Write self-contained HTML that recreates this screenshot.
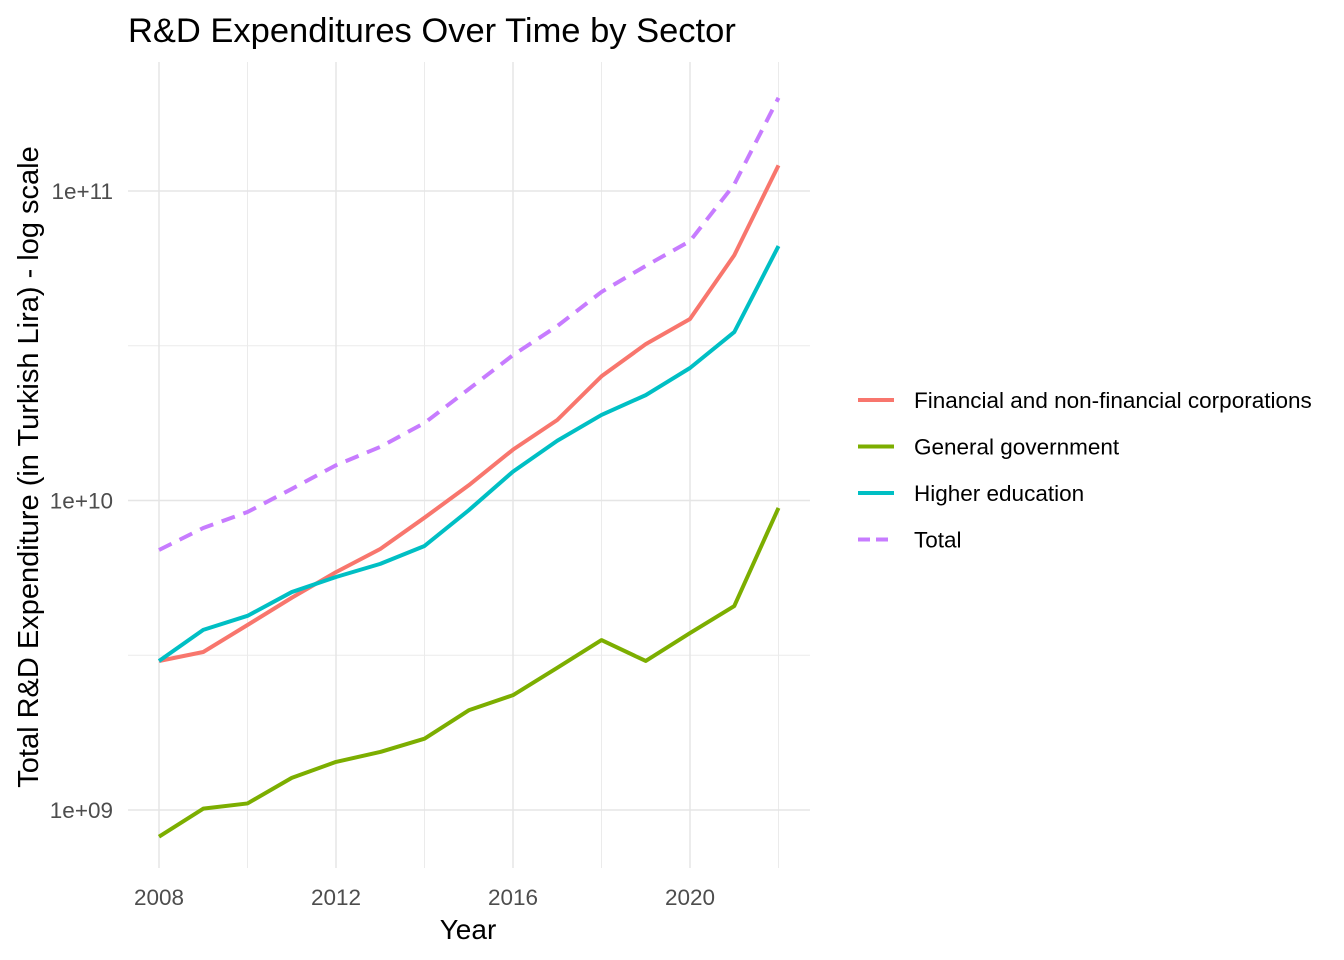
<!DOCTYPE html>
<html><head><meta charset="utf-8"><style>
html,body{margin:0;padding:0;background:#fff;}
svg{display:block;font-family:"Liberation Sans",Arial,sans-serif;}
</style></head><body>
<svg id="chart" width="1344" height="960">
<g id="grid"></g>
<g id="series"></g>
<g id="axes"></g>
<text x="128" y="42" font-size="34.5" fill="#000">R&amp;D Expenditures Over Time by Sector</text>
<text x="468" y="939" font-size="28" fill="#000" text-anchor="middle">Year</text>
<text transform="translate(38,467) rotate(-90)" font-size="29" fill="#000" text-anchor="middle">Total R&amp;D Expenditure (in Turkish Lira) - log scale</text>
<g id="legend"></g>
</svg>
<script>
const years = [2008,2009,2010,2011,2012,2013,2014,2015,2016,2017,2018,2019,2020,2021,2022];
const corporations = [3.03e9,3.24e9,3.96e9,4.85e9,5.87e9,6.97e9,8.8e9,1.12e10,1.46e10,1.82e10,2.52e10,3.2e10,3.86e10,6.2e10,1.21e11];
const government = [8.2e8,1.01e9,1.05e9,1.27e9,1.43e9,1.54e9,1.7e9,2.1e9,2.35e9,2.88e9,3.54e9,3.03e9,3.73e9,4.56e9,9.46e9];
const higherEducation = [3.03e9,3.82e9,4.24e9,5.06e9,5.66e9,6.24e9,7.13e9,9.3e9,1.24e10,1.56e10,1.89e10,2.19e10,2.68e10,3.5e10,6.64e10];
const total = [6.92e9,8.15e9,9.18e9,1.09e10,1.3e10,1.49e10,1.78e10,2.29e10,2.95e10,3.66e10,4.72e10,5.73e10,6.89e10,1.05e11,2.0e11];
const xTicks = [2008,2012,2016,2020];
const yTicks = [1e9,1e10,1e11];
const yTickLabels = ["1e+09","1e+10","1e+11"];
const seriesNames = ["Financial and non-financial corporations","General government","Higher education","Total"];

const NS="http://www.w3.org/2000/svg";
const L=128,R=810,T=62,B=868;
const x=v=>159+(v-2008)*(778.5-159)/14;
const y=v=>191-(Math.log10(v)-11)*309.5;
function mk(tag,attrs,parent){const e=document.createElementNS(NS,tag);for(const k in attrs)e.setAttribute(k,attrs[k]);parent.appendChild(e);return e;}
const grid=document.getElementById('grid'),axes=document.getElementById('axes'),ser=document.getElementById('series'),leg=document.getElementById('legend');
for(let yr=2010;yr<=2022;yr+=4){const l=mk('line',{x1:x(yr),x2:x(yr),y1:T,y2:B,stroke:'#ebebeb','stroke-width':1},grid);

}
for(const e of [9.5,10.5]){const l=mk('line',{x1:L,x2:R,y1:y(Math.pow(10,e)),y2:y(Math.pow(10,e)),stroke:'#ebebeb','stroke-width':1},grid);

}
xTicks.forEach(t=>{const l=mk('line',{x1:x(t),x2:x(t),y1:T,y2:B,stroke:'#e5e5e5','stroke-width':1.5},grid);


const tx=mk('text',{x:x(t),y:905,'font-size':22.5,fill:'#4d4d4d','text-anchor':'middle'},axes);tx.textContent=t;

});
yTicks.forEach((t,i)=>{const l=mk('line',{x1:L,x2:R,y1:y(t),y2:y(t),stroke:'#e5e5e5','stroke-width':1.5},grid);


const tx=mk('text',{x:113,y:y(t)+8,'font-size':22.5,fill:'#4d4d4d','text-anchor':'end'},axes);tx.textContent=yTickLabels[i];

});
const data=[corporations,government,higherEducation,total];
const colors=['#F8766D','#7CAE00','#00BFC4','#C77CFF'];
const names=['line-corporations','line-government','line-higher-education','line-total'];
data.forEach((d,i)=>{const p=mk('polyline',{points:d.map((v,j)=>x(years[j])+','+y(v)).join(' '),fill:'none',stroke:colors[i],'stroke-width':4,'stroke-linejoin':'round'},ser);
if(i===3)p.setAttribute('stroke-dasharray','14,9');


const ly=400+i*46.5;
const g=mk('g',{},leg);


const ll=mk('line',{x1:858,x2:894,y1:ly,y2:ly,stroke:colors[i],'stroke-width':4},g);
if(i===3)ll.setAttribute('stroke-dasharray','12,6');
const t=mk('text',{x:914,y:ly+8,'font-size':22.5,fill:'#000'},g);t.textContent=seriesNames[i];});
</script>
</body></html>
